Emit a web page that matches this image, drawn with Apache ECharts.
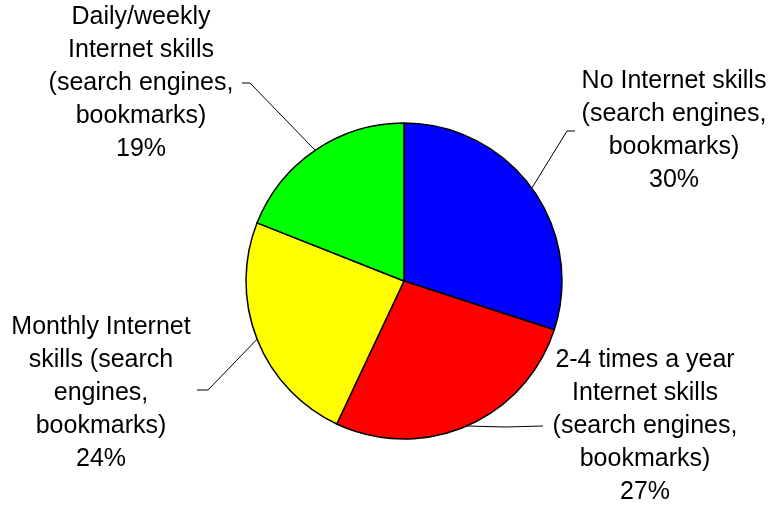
<!DOCTYPE html>
<html>
<head>
<meta charset="utf-8">
<script src="https://cdn.jsdelivr.net/npm/echarts@6/dist/echarts.min.js"></script>
<style>
  html, body { margin: 0; padding: 0; background: #fff; }
  #chart { width: 774px; height: 506px; }
</style>
</head>
<body>
<div id="chart"></div>
<script>
// slice names as printed (line breaks included), clockwise from 12 o'clock
var categories = [
	'No Internet skills\n(search engines,\nbookmarks)',
	'2-4 times a year\nInternet skills\n(search engines,\nbookmarks)',
	'Monthly Internet\nskills (search\nengines,\nbookmarks)',
	'Daily/weekly\nInternet skills\n(search engines,\nbookmarks)'
];
var shares = [30, 27, 24, 19];
var colors = ['#0000ff', '#ff0000', '#ffff00', '#00ff00'];

// where each label sits and how its leader line bends (layout only)
var labelPos = [[674, 131], [645, 426], [101, 393], [141, 83]];
var linePts = [
	[[567, 131], [575, 131]],
	[[505, 427], [543, 426]],
	[[208, 390], [197, 390]],
	[[250, 83], [242, 83]]
];

var chart = echarts.init(document.getElementById('chart'));

var data = categories.map(function (name, i) {
	return { name: name, value: shares[i], itemStyle: { color: colors[i] } };
});

chart.setOption({
	animation: false,
	series: [{
		type: 'pie',
		center: [404, 281],
		radius: 158,
		startAngle: 90,
		clockwise: true,
		data: data,
		itemStyle: { borderColor: '#000', borderWidth: 1.5 },
		emphasis: { disabled: true },
		label: {
			show: true,
			position: 'outside',
			formatter: '{b}\n{d}%',
			color: '#000',
			fontFamily: 'Liberation Sans, Arial, sans-serif',
			fontSize: 25,
			lineHeight: 33,
			align: 'center'
		},
		labelLine: {
			show: true,
			smooth: false,
			lineStyle: { color: '#000', width: 1 }
		},
		labelLayout: function (params) {
			var i = params.dataIndex;
			var p0 = params.labelLinePoints ? params.labelLinePoints[0] : linePts[i][0];
			return {
				x: labelPos[i][0],
				y: labelPos[i][1],
				align: 'center',
				verticalAlign: 'middle',
				labelLinePoints: [p0, linePts[i][0], linePts[i][1]]
			};
		}
	}]
});
</script>
</body>
</html>
